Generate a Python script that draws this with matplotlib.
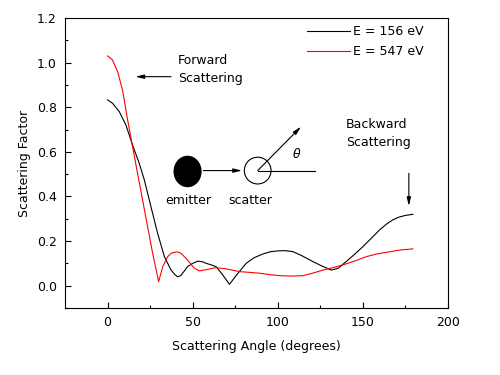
import matplotlib
matplotlib.use("Agg")
import matplotlib.pyplot as plt
from matplotlib.patches import Ellipse

plt.rcParams['font.family'] = ['DejaVu Sans']

angle_156 = [0, 2.9, 6.9, 10.8, 14.7, 18.6, 21.6, 25.5, 29.4, 33.4, 37.3, 39.5, 41.2, 43, 45, 47, 50, 53, 56, 58, 61, 63.8, 67.5, 71.6, 76, 81.4, 86, 91.2, 95.5, 100, 104, 108.8, 114, 120.6, 126, 131.4, 135.5, 140.2, 145, 150, 155, 159.8, 164, 167.6, 171, 175, 179.4]
factor_156 = [0.833, 0.818, 0.78, 0.72, 0.63, 0.549, 0.474, 0.354, 0.235, 0.13, 0.07, 0.05, 0.04, 0.045, 0.065, 0.085, 0.10, 0.11, 0.107, 0.10, 0.093, 0.085, 0.05, 0.006, 0.05, 0.10, 0.125, 0.142, 0.152, 0.156, 0.157, 0.153, 0.135, 0.108, 0.088, 0.070, 0.078, 0.108, 0.14, 0.175, 0.213, 0.25, 0.277, 0.295, 0.307, 0.315, 0.32]

angle_547 = [0, 2.9, 5.9, 8.8, 11.8, 14.7, 17.6, 20.6, 23.5, 26.5, 30, 32.4, 35.3, 37.5, 40.6, 43, 46.1, 51, 54, 58, 63.8, 70, 77.5, 83, 89.2, 95, 101, 108, 114.7, 120, 126.5, 132, 138.2, 145, 152, 158, 165.7, 172, 179.4]
factor_547 = [1.03, 1.012, 0.96, 0.877, 0.743, 0.623, 0.504, 0.384, 0.265, 0.145, 0.018, 0.085, 0.13, 0.146, 0.152, 0.146, 0.123, 0.078, 0.066, 0.072, 0.081, 0.075, 0.063, 0.06, 0.056, 0.05, 0.045, 0.043, 0.045, 0.055, 0.07, 0.08, 0.093, 0.11, 0.13, 0.142, 0.152, 0.16, 0.165]

labels = ["E = 156 eV", "E = 547 eV"]

FS = 9

fig = plt.figure(figsize=(5, 3.75), dpi=100)
ax = fig.add_axes([0.13, 0.1787, 0.766, 0.7733])

ax.plot(angle_156, factor_156, color='black', lw=0.8, label=labels[0])
ax.plot(angle_547, factor_547, color='red', lw=0.8, label=labels[1])

ax.set_xlim(-25, 200)
ax.set_ylim(-0.1, 1.2)
ax.set_xticks([0, 50, 100, 150, 200])
ax.set_xticks([25, 75, 125, 175], minor=True)
ax.set_yticks([0.0, 0.2, 0.4, 0.6, 0.8, 1.0, 1.2])
ax.set_yticks([-0.1, 0.1, 0.3, 0.5, 0.7, 0.9, 1.1], minor=True)
ax.set_yticklabels(["0.0", "0.2", "0.4", "0.6", "0.8", "1.0", "1.2"])
ax.tick_params(which='both', direction='in', top=False, right=False, labelsize=FS, width=0.8)
ax.tick_params(which='major', length=4, pad=6)
ax.tick_params(which='minor', length=2.5)
for s in ax.spines.values():
    s.set_linewidth(0.8)
ax.set_xlabel("Scattering Angle (degrees)", fontsize=FS, labelpad=8)
ax.set_ylabel("Scattering Factor", fontsize=FS, labelpad=4)

leg = ax.legend(loc='upper left', bbox_to_anchor=(0.632, 0.975), frameon=False, fontsize=FS,
                handlelength=3.4, handletextpad=0.3, labelspacing=0.55, borderpad=0,
                borderaxespad=0)

ap = dict(arrowstyle='-|>,head_length=0.5,head_width=0.12', color='black', lw=0.8,
          shrinkA=0, shrinkB=0)

# Forward scattering
ax.text(41.5, 0.97, "Forward\nScattering", fontsize=FS, va='center', ha='left', linespacing=1.5)
ax.annotate("", xy=(16.3, 0.937), xytext=(37.3, 0.937), arrowprops=ap)

# Backward scattering
ax.text(140, 0.68, "Backward\nScattering", fontsize=FS, va='center', ha='left', linespacing=1.5)
ax.annotate("", xy=(177, 0.357), xytext=(177, 0.504), arrowprops=ap)

# Emitter
ax.add_patch(Ellipse((47, 0.512), 15.7, 0.135, facecolor='black', edgecolor='black'))
ax.text(47.5, 0.38, "emitter", fontsize=FS, ha='center', va='center')
ax.annotate("", xy=(79, 0.516), xytext=(56.3, 0.516), arrowprops=ap)

# Scatter
ax.add_patch(Ellipse((88.2, 0.516), 15.7, 0.12, facecolor='none', edgecolor='black', lw=0.8))
ax.text(83.7, 0.38, "scatter", fontsize=FS, ha='center', va='center')
ax.plot([88.2, 121.6], [0.516, 0.516], color='black', lw=0.8)
ax.annotate("", xy=(113.7, 0.713), xytext=(88.2, 0.516), arrowprops=ap)
ax.text(111.2, 0.59, r"$\theta$", fontsize=FS, ha='center', va='center')

fig.savefig("out.png", dpi=100)
